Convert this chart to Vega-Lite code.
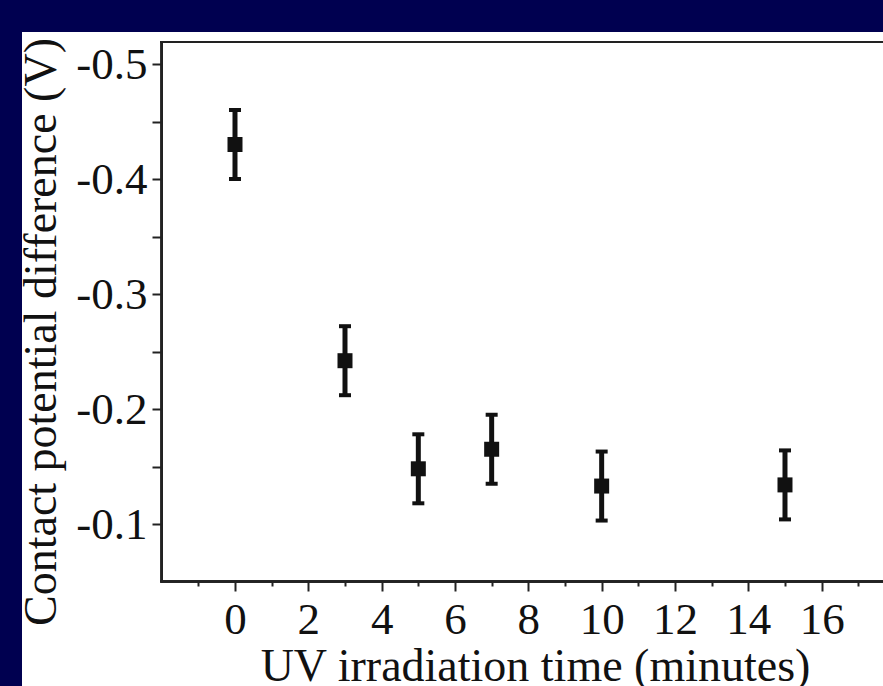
{
  "$schema": "https://vega.github.io/schema/vega-lite/v6.json",
  "width": 861,
  "height": 654,
  "autosize": "none",
  "padding": {"left": 22, "top": 32, "right": 0, "bottom": 0},
  "background": "#000050",
  "config": {"view": {"fill": "white", "stroke": null}, "font": "Liberation Serif"},
  "data": {
    "values": [
      {"t": 0, "v": -0.43, "err": 0.03},
      {"t": 3, "v": -0.242, "err": 0.03},
      {"t": 5, "v": -0.148, "err": 0.03},
      {"t": 7, "v": -0.165, "err": 0.03},
      {"t": 10, "v": -0.133, "err": 0.03},
      {"t": 15, "v": -0.134, "err": 0.03}
    ]
  },
  "layer": [
    {
      "mark": {
        "type": "errorbar",
        "ticks": {"size": 12, "thickness": 4, "color": "#111", "opacity": 1},
        "rule": {"strokeWidth": 5, "color": "#111", "opacity": 1}
      },
      "encoding": {
        "x": {
          "field": "t",
          "type": "quantitative",
          "scale": {"domain": [-5.809, 17.673], "nice": false, "zero": false},
          "axis": {
            "orient": "bottom",
            "offset": -105,
            "values": [-1, 0, 1, 2, 3, 4, 5, 6, 7, 8, 9, 10, 11, 12, 13, 14, 15, 16, 17],
            "format": "d",
            "domain": false,
            "grid": false,
            "tickSize": {"condition": {"test": "datum.value % 2 === 0", "value": 10}, "value": 5},
            "tickWidth": 2,
            "tickColor": "#222",
            "labelExpr": "(datum.value % 2 === 0 && datum.value >= 0) ? datum.label : ''",
            "labelFont": "Liberation Serif",
            "labelFontSize": 45,
            "labelColor": "#111",
            "labelPadding": 6,
            "labelFlush": false,
            "labelOverlap": false,
            "title": "UV irradiation time (minutes)",
            "titleFont": "Liberation Serif",
            "titleFontSize": 46,
            "titleFontWeight": "normal",
            "titleColor": "#111",
            "titleX": 513,
            "titleY": 99,
            "titleBaseline": "alphabetic",
            "titleAlign": "center",
            "titleAngle": 0
          }
        },
        "y": {
          "field": "v",
          "type": "quantitative",
          "scale": {"domain": [-0.52783, 0.04087], "reverse": true, "nice": false, "zero": false},
          "axis": {
            "orient": "left",
            "offset": -140,
            "values": [-0.5, -0.45, -0.4, -0.35, -0.3, -0.25, -0.2, -0.15, -0.1],
            "domain": false,
            "grid": false,
            "tickSize": 10,
            "tickWidth": 2,
            "tickColor": "#222",
            "labelExpr": "(round(abs(datum.value) * 100) % 10 === 0) ? '-0.' + round(abs(datum.value) * 10) : ''",
            "labelFont": "Liberation Serif",
            "labelFontSize": 45,
            "labelColor": "#111",
            "labelPadding": 5,
            "labelOverlap": false,
            "labelFlush": false,
            "title": "Contact potential difference (V)",
            "titleFont": "Liberation Serif",
            "titleFontSize": 46,
            "titleFontWeight": "normal",
            "titleColor": "#111",
            "titleX": -107,
            "titleY": 299.5,
            "titleAngle": 270,
            "titleBaseline": "alphabetic",
            "titleAlign": "center"
          }
        },
        "yError": {"field": "err"}
      }
    },
    {
      "mark": {"type": "point", "shape": "square", "size": 225, "filled": true, "color": "#111", "opacity": 1},
      "encoding": {
        "x": {"field": "t", "type": "quantitative"},
        "y": {"field": "v", "type": "quantitative"}
      }
    },
    {
      "mark": {"type": "rule", "color": "#222", "strokeWidth": 2, "strokeCap": "square"},
      "encoding": {
        "x": {"datum": -2, "type": "quantitative"},
        "y": {"datum": -0.5191, "type": "quantitative"},
        "y2": {"datum": -0.05}
      }
    },
    {
      "mark": {"type": "rule", "color": "#222", "strokeWidth": 2, "strokeCap": "square"},
      "encoding": {
        "y": {"datum": -0.05, "type": "quantitative"},
        "x": {"datum": -2, "type": "quantitative"},
        "x2": {"datum": 17.673}
      }
    },
    {
      "mark": {"type": "rule", "color": "#222", "strokeWidth": 2, "strokeCap": "square"},
      "encoding": {
        "y": {"datum": -0.5191, "type": "quantitative"},
        "x": {"datum": -2, "type": "quantitative"},
        "x2": {"datum": 17.673}
      }
    }
  ]
}
